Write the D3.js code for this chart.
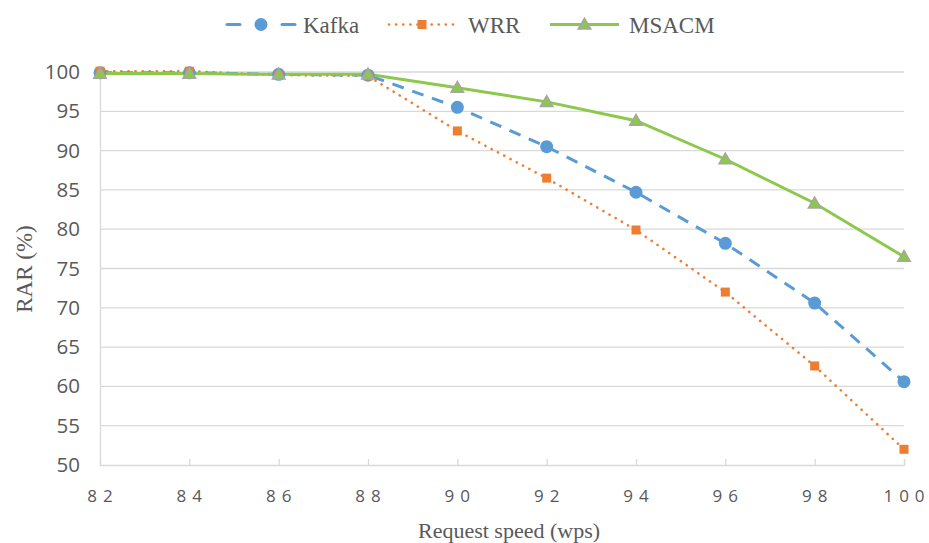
<!DOCTYPE html>
<html><head><meta charset="utf-8">
<script src="https://cdn.jsdelivr.net/npm/d3@7"></script>
<style>body{margin:0;background:#fff}</style>
</head><body><svg id="c" width="929" height="543"></svg>
<script>
const categories = ["82","84","86","88","90","92","94","96","98","100"];
const kafka = [99.9, 99.9, 99.7, 99.6, 95.5, 90.5, 84.7, 78.2, 70.6, 60.6];
const wrr   = [100.1, 100.1, 99.6, 99.5, 92.5, 86.5, 79.9, 72.0, 62.6, 52.0];
const msacm = [99.8, 99.8, 99.7, 99.7, 98.0, 96.2, 93.8, 88.9, 83.3, 76.5];
const yTicks = [50,55,60,65,70,75,80,85,90,95,100];
const seriesNames = ["Kafka","WRR","MSACM"];

const SERIF = "'Liberation Serif', 'Times New Roman', 'DejaVu Serif', serif";
const SANS = "'Open Sans', 'Liberation Sans', sans-serif";
const svg = d3.select("#c");
const L = 100, R = 904, T = 72, B = 465;
const x = d3.scalePoint().domain(categories).range([L, R]);
const y = d3.scaleLinear().domain([50, 100]).range([B, T]);

// gridlines
svg.append("g").selectAll("line").data(yTicks.filter(d => d > 50)).join("line")
  .attr("x1", L).attr("x2", R).attr("y1", d => y(d)).attr("y2", d => y(d))
  .attr("stroke", "#d9d9d9").attr("stroke-width", 1.3);

// y axis
const ya = svg.append("g").attr("transform", `translate(${L},0)`)
  .call(d3.axisLeft(y).tickValues(yTicks).tickSize(0).tickPadding(20));
ya.select(".domain").attr("stroke", "#d9d9d9").attr("stroke-width", 1.3);
ya.selectAll("text").attr("font-family", SANS).attr("font-size", 20.5).attr("fill", "#595959");

// x axis
const xa = svg.append("g").attr("transform", `translate(0,${B})`)
  .call(d3.axisTop(x).tickSize(6).tickFormat(""));
xa.select(".domain").attr("stroke", "#d9d9d9").attr("stroke-width", 1.3);
xa.selectAll(".tick line").attr("stroke", "#d9d9d9").attr("stroke-width", 1.3);
xa.selectAll(".tick").filter(d => d === "82").remove();
const xl = svg.append("g").selectAll("text").data(categories).join("text")
  .attr("x", d => x(d)).attr("y", B + 37).attr("text-anchor", "middle")
  .attr("font-family", SANS).attr("font-size", 17).attr("fill", "#595959");
xl.each(function(d) {
  const t = d3.select(this);
  d.split("").forEach((ch, i) => {
    t.append("tspan").attr("dx", i === 0 ? 0 : 6).text(ch);
  });
});

// axis titles
svg.append("text").attr("x", 509).attr("y", 538).attr("text-anchor", "middle")
  .attr("font-family", SERIF).attr("font-size", 22).attr("fill", "#595959")
  .text("Request speed (wps)");
svg.append("text").attr("transform", "translate(32,269) rotate(-90)").attr("text-anchor", "middle")
  .attr("font-family", SERIF).attr("font-size", 23).attr("fill", "#595959")
  .text("RAR (%)");

const line = d3.line().x((d, i) => x(categories[i])).y(d => y(d));
const colK = "#5b9bd5", colW = "#ed7d31", colM = "#8cc84b";

svg.append("path").datum(wrr).attr("d", line).attr("fill", "none").attr("stroke", colW)
  .attr("stroke-width", 2.6).attr("stroke-dasharray", "0.1 7").attr("stroke-linecap", "round");
svg.append("path").datum(kafka).attr("d", line).attr("fill", "none").attr("stroke", colK)
  .attr("stroke-width", 3).attr("stroke-dasharray", "12 9");
svg.append("path").datum(msacm).attr("d", line).attr("fill", "none").attr("stroke", colM)
  .attr("stroke-width", 3);

// markers
svg.append("g").selectAll("circle").data(kafka).join("circle")
  .attr("cx", (d, i) => x(categories[i])).attr("cy", d => y(d)).attr("r", 6.5).attr("fill", colK);
svg.append("g").selectAll("rect").data(wrr).join("rect")
  .attr("x", (d, i) => x(categories[i]) - 4.5).attr("y", d => y(d) - 4.5)
  .attr("width", 9).attr("height", 9).attr("fill", colW);
const tri = d3.symbol().type(d3.symbolTriangle).size(68);
svg.append("g").selectAll("path").data(msacm).join("path")
  .attr("transform", (d, i) => `translate(${x(categories[i])},${y(d) + 1})`)
  .attr("d", tri).attr("fill", colM).attr("stroke", "#a5a5a5").attr("stroke-width", 1.5);

// legend
const lg = svg.append("g");
const ly = 24.5;
const legendItems = [
  {name: seriesNames[0], x1: 227, x2: 295, tx: 303, color: colK},
  {name: seriesNames[1], x1: 389, x2: 455, tx: 468, color: colW},
  {name: seriesNames[2], x1: 550, x2: 619, tx: 629, color: colM}
];
legendItems.forEach((it, i) => {
  const mx = (it.x1 + it.x2) / 2;
  if (i === 0) {
    lg.append("line").attr("x1", it.x1).attr("x2", it.x1 + 13).attr("y1", ly).attr("y2", ly)
      .attr("stroke", it.color).attr("stroke-width", 3).attr("stroke-linecap", "round");
    lg.append("line").attr("x1", it.x2 - 13).attr("x2", it.x2).attr("y1", ly).attr("y2", ly)
      .attr("stroke", it.color).attr("stroke-width", 3).attr("stroke-linecap", "round");
    lg.append("circle").attr("cx", mx).attr("cy", ly).attr("r", 6.5).attr("fill", it.color);
  } else if (i === 1) {
    lg.append("line").attr("x1", it.x1).attr("x2", it.x2).attr("y1", ly).attr("y2", ly)
      .attr("stroke", it.color).attr("stroke-width", 2.6).attr("stroke-dasharray", "0.1 7").attr("stroke-linecap", "round");
    lg.append("rect").attr("x", mx - 4.5).attr("y", ly - 4.5).attr("width", 9).attr("height", 9).attr("fill", it.color);
  } else {
    lg.append("line").attr("x1", it.x1).attr("x2", it.x2).attr("y1", ly).attr("y2", ly)
      .attr("stroke", it.color).attr("stroke-width", 3);
    lg.append("path").attr("transform", `translate(${mx},${ly + 1})`).attr("d", tri)
      .attr("fill", it.color).attr("stroke", "#a5a5a5").attr("stroke-width", 1.5);
  }
  lg.append("text").attr("x", it.tx).attr("y", ly + 8).attr("font-family", SERIF)
    .attr("font-size", 23).attr("fill", "#595959").text(it.name);
});
</script></body></html>
